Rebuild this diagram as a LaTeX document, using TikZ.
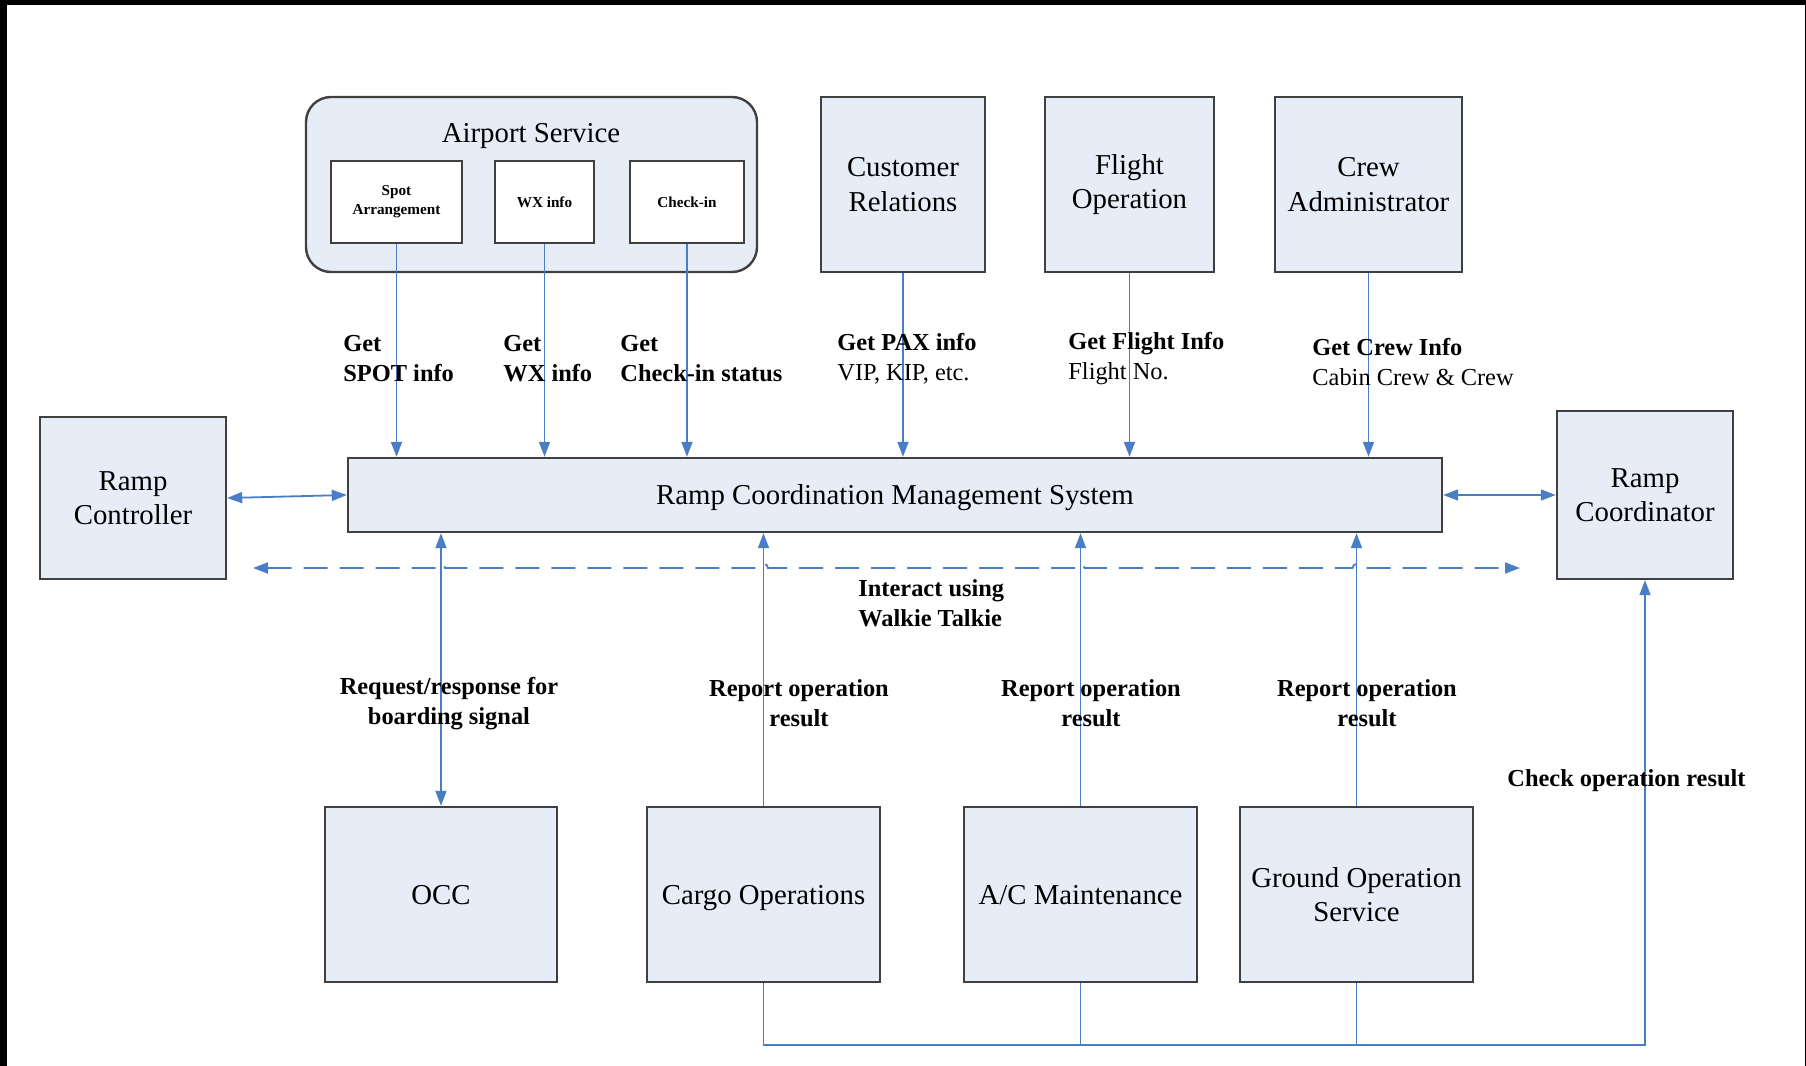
\documentclass[tikz,border=0pt]{standalone}
\usepackage{fontspec}
\setmainfont{Liberation Serif}
\usetikzlibrary{arrows.meta}

\definecolor{boxfill}{RGB}{231,237,247}
\definecolor{boxline}{RGB}{64,64,64}
\definecolor{linkblue}{RGB}{74,126,196}

\tikzset{
  box/.style={draw=boxline, fill=boxfill, line width=1.2pt, inner sep=0pt,
              align=center, font=\fontsize{14.4}{17.25}\selectfont},
  oneline/.style={text depth=0pt},
  subbox/.style={draw=boxline, fill=white, line width=0.9pt, inner sep=0pt,
              align=center, font=\fontsize{7.6}{9.6}\selectfont\bfseries},
  link/.style={draw=linkblue, line width=0.9pt},
  tip/.style={-{Triangle[length=7.5pt,width=5.5pt]}},
  tips/.style={{Triangle[length=7.5pt,width=5.5pt]}-{Triangle[length=7.5pt,width=5.5pt]}},
  lbl/.style={inner sep=0pt, font=\fontsize{12.2}{15}\selectfont\bfseries},
  lblplain/.style={inner sep=0pt, font=\fontsize{12.2}{15}\selectfont},
}

\begin{document}
\begin{tikzpicture}[x=0.5pt, y=-0.5pt]
  \useasboundingbox (0,0) rectangle (1806,1066);
  \fill[white] (0,0) rectangle (1806,1066);
  % frame edges
  \fill[black] (0,0) rectangle (1806,5);
  \fill[black] (0,0) rectangle (7,1066);
  \fill[black] (1804.5,0) rectangle (1806,1066);

  % Airport Service group
  \node[box, rounded corners=12.5pt, minimum width=225.5pt, minimum height=87.5pt] (airport) at (531.5,184.5) {};
  \node[inner sep=0pt, font=\fontsize{14.4}{17.25}\selectfont, text depth=0pt] (airporttitle) at (531,133) {Airport Service};
  \node[subbox, minimum width=65.5pt, minimum height=41pt] (spot) at (396.5,202) {Spot\\Arrangement};
  \node[subbox, minimum width=49.5pt, minimum height=41pt] (wx) at (544.5,202) {WX info};
  \node[subbox, minimum width=57pt, minimum height=41pt] (chk) at (687,202) {Check-in};

  % top row
  \node[box, minimum width=82pt, minimum height=87.5pt] (cust) at (903,184.5) {Customer\\Relations};
  \node[box, minimum width=84.5pt, minimum height=87.5pt] (fop) at (1129.5,184.5) {Flight\\Operation};
  \node[box, minimum width=93.5pt, minimum height=87.5pt] (crew) at (1368.5,184.5) {Crew\\Administrator};

  % middle row
  \node[box, minimum width=93pt, minimum height=81pt] (rc) at (133,498) {Ramp\\Controller};
  \node[box, oneline, minimum width=547pt, minimum height=37pt] (rcms) at (895,495) {Ramp Coordination Management System};
  \node[box, minimum width=88pt, minimum height=84pt] (rcoord) at (1645,495) {Ramp\\Coordinator};

  % bottom row
  \node[box, oneline, minimum width=116pt, minimum height=87.5pt] (occ) at (441,894.5) {OCC};
  \node[box, oneline, minimum width=116.5pt, minimum height=87.5pt] (cargo) at (763.5,894.5) {Cargo Operations};
  \node[box, oneline, minimum width=116.5pt, minimum height=87.5pt] (acm) at (1080.5,894.5) {A/C Maintenance};
  \node[box, minimum width=116.5pt, minimum height=87.5pt] (gos) at (1356.5,894.5) {Ground Operation\\Service};

  % information requests into the system
  \draw[link, tip] (spot.south) -- (spot.south |- rcms.north);
  \draw[link, tip] (wx.south) -- (wx.south |- rcms.north);
  \draw[link, tip] (chk.south) -- (chk.south |- rcms.north);
  \draw[link, tip] (cust.south) -- (cust.south |- rcms.north);
  \draw[link, tip] (fop.south) -- (fop.south |- rcms.north);
  \draw[link, tip] (crew.south) -- (crew.south |- rcms.north);

  % side links
  \draw[link, tips] (rc.east) -- (rcms.west);
  \draw[link, tips] (rcms.east) -- (rcoord.west);

  % walkie talkie (dashed, hopping over the vertical links)
  \coordinate (wtL) at (253,568);
  \coordinate (wtR) at (1520,568);
  \draw[link, dash pattern=on 12pt off 6pt, tips]
    (wtL) -- (437,568) arc[start angle=180, end angle=0, radius=2pt]
    -- (760,568) arc[start angle=180, end angle=0, radius=2pt]
    -- (1076.5,568) arc[start angle=180, end angle=0, radius=2pt]
    -- (1352.5,568) arc[start angle=180, end angle=0, radius=2pt]
    -- (wtR);

  % reports from below
  \draw[link, tips] (occ.north) -- (occ.north |- rcms.south);
  \draw[link, tip] (cargo.north) -- (cargo.north |- rcms.south);
  \draw[link, tip] (acm.north) -- (acm.north |- rcms.south);
  \draw[link, tip] (gos.north) -- (gos.north |- rcms.south);

  % results collected for the coordinator
  \coordinate (bus) at (764,1045);
  \draw[link] (acm.south) -- (acm.south |- bus);
  \draw[link] (gos.south) -- (gos.south |- bus);
  \draw[link, tip] (cargo.south) -- (cargo.south |- bus) -- (rcoord.south |- bus) -- (rcoord.south);

  % labels
  \node[lbl, anchor=west, align=left] (l1) at (343,359) {Get\\SPOT info};
  \node[lbl, anchor=west, align=left] (l2) at (503,359) {Get\\WX info};
  \node[lbl, anchor=west, align=left] (l3) at (620,359) {Get\\Check-in status};
  \node[lblplain, anchor=west, align=left] (l4) at (837,359) {\textbf{Get PAX info}\\VIP, KIP, etc.};
  \node[lblplain, anchor=west, align=left] (l5) at (1068,359) {\textbf{Get Flight Info}\\Flight No.};
  \node[lblplain, anchor=west, align=left] (l6) at (1312,362) {\textbf{Get Crew Info}\\Cabin Crew \& Crew};
  \node[lbl, anchor=west, align=left] (l7) at (858,603) {Interact using\\Walkie Talkie};
  \node[lbl, align=center] (l8) at (449,704) {Request/response for\\boarding signal};
  \node[lbl, align=center] (l9) at (799,703) {Report operation\\result};
  \node[lbl, align=center] (l10) at (1091,703) {Report operation\\result};
  \node[lbl, align=center] (l11) at (1367,703) {Report operation\\result};
  \node[lbl, anchor=west, text depth=0pt] (l12) at (1507,778) {Check operation result};
\end{tikzpicture}
\end{document}
